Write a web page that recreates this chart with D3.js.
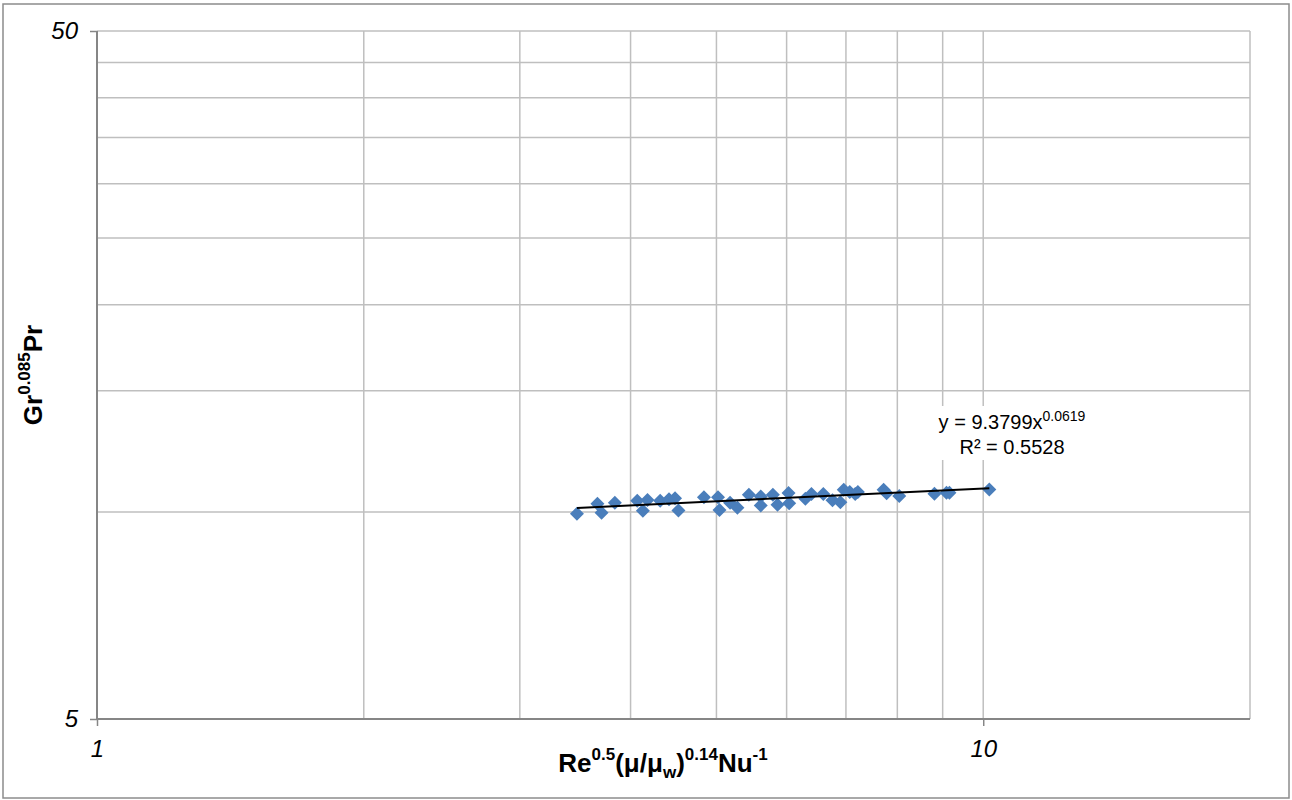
<!DOCTYPE html>
<html><head><meta charset="utf-8">
<script src="https://cdn.jsdelivr.net/npm/d3@7"></script>
<style>body{margin:0;background:#fff} text{font-family:"Liberation Sans",Arial,sans-serif}</style>
</head><body><svg id="c" width="1292" height="800"></svg>
<script>
const xValues=[3.48,3.67,3.71,3.84,4.07,4.13,4.18,4.32,4.42,4.49,4.53,4.84,5.02,5.04,5.18,5.28,5.44,5.61,5.61,5.79,5.86,6.03,6.04,6.30,6.40,6.60,6.76,6.90,6.96,7.07,7.17,7.22,7.72,7.78,8.04,8.81,9.09,9.16,10.16];
const yValues=[9.94,10.28,9.97,10.31,10.38,10.04,10.41,10.38,10.43,10.47,10.05,10.50,10.50,10.06,10.31,10.14,10.59,10.53,10.22,10.59,10.24,10.65,10.29,10.45,10.62,10.62,10.40,10.33,10.77,10.69,10.62,10.69,10.77,10.64,10.55,10.63,10.66,10.66,10.78];
const xTickValues=[1,10];
const yTickValues=[5,50];
const xGridValues=[2,3,4,5,6,7,8,9,10,20];
const yGridValues=[10,15,20,25,30,35,40,45,50];
const xDomain=[1,20];
const yDomain=[5,50];
const trendA=9.3799, trendB=0.0619;
const eqLine1=["y = 9.3799x","0.0619"];
const eqLine2="R² = 0.5528";

const svg=d3.select("#c");
const L=97,R=1250,T=31,B=719;
const x=d3.scaleLog().domain(xDomain).range([L,R]);
const y=d3.scaleLog().domain(yDomain).range([B,T]);

// outer border
svg.append("rect").attr("x",3).attr("y",4).attr("width",1286).attr("height",794)
  .attr("fill","#fff").attr("stroke","#8c8c8c").attr("stroke-width",1.5);

// gridlines
svg.append("g").selectAll("line").data(xGridValues).join("line")
  .attr("x1",d=>x(d)).attr("x2",d=>x(d)).attr("y1",T).attr("y2",B)
  .attr("stroke","#bfbfbf").attr("stroke-width",1.5);
svg.append("g").selectAll("line").data(yGridValues).join("line")
  .attr("x1",L).attr("x2",R).attr("y1",d=>y(d)).attr("y2",d=>y(d))
  .attr("stroke","#bfbfbf").attr("stroke-width",1.5);

// axes
const xAxis=d3.axisBottom(x).tickValues(xTickValues).tickFormat(d3.format("d")).tickSize(7).tickPadding(14);
const yAxis=d3.axisLeft(y).tickValues(yTickValues).tickFormat(d3.format("d")).tickSize(7).tickPadding(12);
const gx=svg.append("g").attr("transform",`translate(0,${B})`).call(xAxis);
const gy=svg.append("g").attr("transform",`translate(${L},0)`).call(yAxis);
[gx,gy].forEach(g=>{
  g.select(".domain").attr("stroke","#868686").attr("stroke-width",2);
  g.selectAll(".tick line").attr("stroke","#868686").attr("stroke-width",1.5);
  g.selectAll(".tick text").attr("font-family","'Liberation Sans',Arial,sans-serif")
    .attr("font-size",24).attr("font-style","italic").attr("fill","#000");
});
gx.select(".domain").attr("d",`M${L},0H${R}`);
gy.select(".domain").attr("d",`M0,${B}V${T}`);

// points
const tx=d3.extent(xValues);
const pts=xValues.map((v,i)=>[v,yValues[i]]);
svg.append("g").selectAll("path").data(pts).join("path")
  .attr("d",d=>{const cx=x(d[0]),cy=y(d[1]),s=7;return `M${cx},${cy-s}L${cx+s},${cy}L${cx},${cy+s}L${cx-s},${cy}Z`;})
  .attr("fill","#4a7ebb");
// trendline over points
svg.append("line").attr("x1",x(tx[0])).attr("y1",y(trendA*Math.pow(tx[0],trendB)))
  .attr("x2",x(tx[1])).attr("y2",y(trendA*Math.pow(tx[1],trendB)))
  .attr("stroke","#000").attr("stroke-width",2);

// equation label
const eg=svg.append("g");
eg.append("rect").attr("x",926).attr("y",406).attr("width",172).attr("height",54).attr("fill","#fff");
const t1=eg.append("text").attr("x",1012).attr("y",429).attr("text-anchor","middle").attr("font-size",20);
t1.append("tspan").text(eqLine1[0]);
t1.append("tspan").attr("dy",-8).attr("font-size",14).text(eqLine1[1]);
eg.append("text").attr("x",1012).attr("y",454).attr("text-anchor","middle").attr("font-size",20).text(eqLine2);

// x title
const xt=svg.append("text").attr("x",663).attr("y",772).attr("text-anchor","middle")
  .attr("font-size",26).attr("font-weight","bold");
xt.append("tspan").text("Re");
xt.append("tspan").attr("font-size",17).attr("dy",-12).text("0.5");
xt.append("tspan").attr("dy",12).text("(μ/μ");
xt.append("tspan").attr("font-size",17).attr("dy",6).text("w");
xt.append("tspan").attr("dy",-6).text(")");
xt.append("tspan").attr("font-size",17).attr("dy",-12).text("0.14");
xt.append("tspan").attr("dy",12).text("Nu");
xt.append("tspan").attr("font-size",17).attr("dy",-12).text("-1");

// y title
const yt=svg.append("text").attr("transform",`translate(42,${(T+B)/2}) rotate(-90)`).attr("text-anchor","middle")
  .attr("font-size",26).attr("font-weight","bold");
yt.append("tspan").text("Gr");
yt.append("tspan").attr("font-size",17).attr("dy",-12).text("0.085");
yt.append("tspan").attr("dy",12).text("Pr");
</script></body></html>
